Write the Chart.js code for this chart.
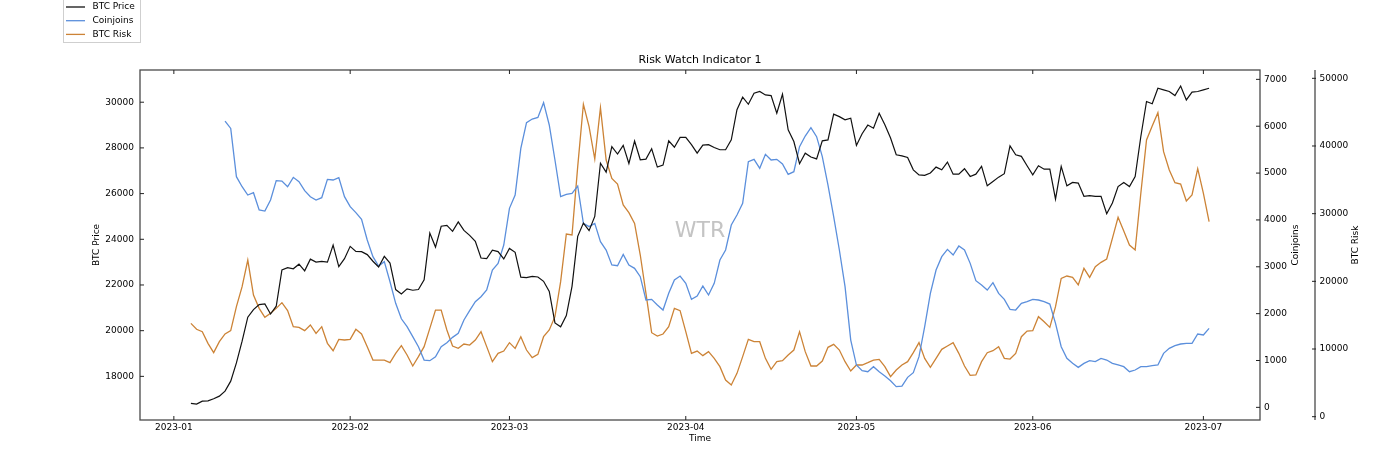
<!DOCTYPE html>
<html>
<head>
<meta charset="utf-8">
<title>Risk Watch Indicator 1</title>
<script src="https://cdn.jsdelivr.net/npm/chart.js@4.4.0/dist/chart.umd.min.js"></script>
<style>
  html, body { margin: 0; padding: 0; background: #fff; }
  canvas { display: block; }
</style>
</head>
<body>
<canvas id="chart" width="1400" height="467"></canvas>
<script>
// --- данные (день от 1 января 2023) ---
const tickDays = [0, 31, 59, 90, 120, 151, 181];
const tickLabels = ['2023-01', '2023-02', '2023-03', '2023-04', '2023-05', '2023-06', '2023-07'];
const priceTicks = [18000, 20000, 22000, 24000, 26000, 28000, 30000];
const coinjoinTicks = [0, 1000, 2000, 3000, 4000, 5000, 6000, 7000];
const riskTicks = [0, 10000, 20000, 30000, 40000, 50000];

const priceStart = 3;     // 4 января
const coinjoinStart = 9;  // 10 января
const riskStart = 3;

const btcPrice = [
  16814, 16785, 16917, 16930, 17018, 17135, 17353, 17790, 18590, 19540,
  20590, 20920, 21140, 21170, 20730, 21070, 22660, 22760, 22710, 22910,
  22620, 23130, 23000, 23030, 23000, 23750, 22800, 23150, 23690, 23470,
  23460, 23330, 23040, 22790, 23250, 22960, 21800, 21610, 21830, 21770,
  21800, 22230, 24270, 23660, 24570, 24610, 24350, 24760, 24390, 24170,
  23910, 23180, 23150, 23520, 23460, 23140, 23600, 23430, 22340, 22320,
  22380, 22350, 22160, 21720, 20340, 20170, 20660, 21940, 24130, 24710,
  24380, 25000, 27330, 26940, 28060, 27730, 28110, 27320, 28300, 27480,
  27510, 27960, 27160, 27250, 28310, 28030, 28460, 28460, 28140, 27770,
  28120, 28140, 28020, 27920, 27920, 28350, 29670, 30220, 29910, 30390,
  30470, 30320, 30290, 29520, 30350, 28790, 28280, 27310, 27770, 27600,
  27520, 28310, 28350, 29480, 29370, 29230, 29300, 28110, 28620, 29000,
  28860, 29520, 29010, 28430, 27700, 27650, 27580, 27040, 26820, 26800,
  26900, 27160, 27040, 27380, 26850, 26850, 27090, 26750, 26850, 27190,
  26340, 26530, 26720, 26870, 28090, 27700, 27630, 27220, 26820, 27220,
  27070, 27070, 25760, 27190, 26340, 26490, 26460, 25880, 25910, 25880,
  25880, 25120, 25590, 26310, 26490, 26310, 26750, 28500, 30030, 29930,
  30610, 30540, 30470, 30290, 30710, 30100, 30440, 30470, 30540, 30610
];

const coinjoins = [
  6111, 5954, 4923, 4709, 4532, 4581, 4212, 4190, 4425, 4838,
  4830, 4709, 4909, 4816, 4624, 4496, 4425, 4475, 4866, 4852,
  4902, 4496, 4283, 4155, 4012, 3571, 3216, 3016, 3110, 2680,
  2220, 1890, 1722, 1508, 1295, 1010, 996, 1081, 1295, 1380,
  1494, 1579, 1864, 2063, 2255, 2362, 2504, 2931, 3073, 3465,
  4247, 4532, 5528, 6075, 6154, 6189, 6502, 6026, 5279, 4496,
  4546, 4567, 4724, 3927, 3856, 3927, 3536, 3358, 3038, 3023,
  3265, 3038, 2967, 2789, 2291, 2305, 2184, 2077, 2433, 2718,
  2803, 2646, 2305, 2376, 2589, 2397, 2646, 3144, 3358, 3891,
  4105, 4354, 5243, 5293, 5101, 5400, 5279, 5293, 5193, 4973,
  5030, 5563, 5791, 5969, 5777, 5350, 4745, 4069, 3358, 2575,
  1437, 903, 783, 761, 868, 761, 669, 569, 441, 455,
  640, 740, 1081, 1722, 2433, 2931, 3216, 3372, 3251, 3443,
  3358, 3073, 2703, 2611, 2504, 2661, 2433, 2305, 2092, 2077,
  2220, 2255, 2305, 2291, 2255, 2205, 1793, 1295, 1046, 939,
  854, 939, 996, 975, 1046, 1010, 939, 904, 868, 761,
  797, 868, 868, 889, 904, 1152, 1259, 1316, 1352, 1366,
  1366, 1565, 1544, 1686
];

const btcRisk = [
  13790, 12910, 12560, 10840, 9460, 11080, 12220, 12710, 16260, 19210,
  23150, 17980, 16010, 14680, 15270, 16010, 16850, 15670, 13300, 13200,
  12710, 13550, 12320, 13300, 10840, 9750, 11430, 11330, 11430, 12910,
  12220, 10350, 8370, 8370, 8370, 7980, 9360, 10500, 9110, 7490,
  8870, 10350, 13050, 15760, 15760, 12810, 10440, 10100, 10740, 10590,
  11330, 12560, 10350, 8130, 9360, 9700, 10940, 10100, 11820, 9850,
  8720, 9210, 11820, 12810, 14780, 19950, 26990, 26850, 36950, 46160,
  42860, 38080, 45660, 37930, 35220, 34380, 31280, 30150, 28570, 23890,
  18230, 12410, 11920, 12220, 13300, 16010, 15670, 12560, 9360, 9700,
  9020, 9610, 8620, 7390, 5420, 4680, 6400, 8870, 11430, 11080,
  11080, 8620, 7000, 8130, 8280, 9110, 9850, 12560, 9610, 7490,
  7490, 8230, 10250, 10690, 9850, 8130, 6750, 7640, 7640, 7980,
  8370, 8470, 7390, 5910, 6900, 7640, 8130, 9460, 10940, 8620,
  7290, 8620, 9950, 10440, 10940, 9360, 7490, 6110, 6160, 8130,
  9460, 9750, 10350, 8620, 8520, 9360, 11820, 12660, 12710, 14780,
  14040, 13200, 16260, 20440, 20790, 20590, 19460, 21920, 20590, 22170,
  22810, 23300, 26350, 29460, 27440, 25370, 24630, 33010, 40890, 42960,
  44930, 39160, 36450, 34580, 34380, 31870, 32760, 36650, 33010, 28820
];

// ==============================================
// стиль
// ==============================================
const FONT = 'DejaVu Sans';
const SPINE = '#4a4a4a';
const colors = { price: '#111111', coinjoins: '#5b8fdc', risk: '#cc8336' };

function toPoints(start, values) {
  return values.map((v, i) => ({ x: start + i, y: v }));
}

function fixedTicks(list) {
  return scale => { scale.ticks = list.map(v => ({ value: v })); };
}

const plainNumber = v => String(v);

// рамка, внутренние риски, подписи осей, легенда и водяной знак
const decorPlugin = {
  id: 'decor',
  beforeDatasetsDraw(chart) {
    const { ctx, chartArea: a } = chart;
    ctx.save();
    ctx.font = '22px "' + FONT + '"';
    ctx.fillStyle = '#c4c4c4';
    ctx.textAlign = 'center';
    ctx.textBaseline = 'middle';
    ctx.fillText('WTR', (a.left + a.right) / 2, 231);
    ctx.restore();
  },
  afterDraw(chart) {
    const { ctx, chartArea: a, scales } = chart;
    ctx.save();
    ctx.strokeStyle = SPINE;
    ctx.lineWidth = 1.3;
    ctx.strokeRect(a.left, a.top, a.right - a.left, a.bottom - a.top);

    const risk = scales.risk;
    ctx.beginPath();
    ctx.moveTo(risk.left, a.top);
    ctx.lineTo(risk.left, a.bottom);
    ctx.stroke();

    ctx.lineWidth = 1;
    ctx.strokeStyle = '#222';
    ctx.beginPath();
    scales.x.ticks.forEach(t => {
      const px = scales.x.getPixelForValue(t.value);
      ctx.moveTo(px, a.bottom); ctx.lineTo(px, a.bottom - 4);
      ctx.moveTo(px, a.top); ctx.lineTo(px, a.top + 4);
    });
    scales.y.ticks.forEach(t => {
      const py = scales.y.getPixelForValue(t.value);
      ctx.moveTo(a.left, py); ctx.lineTo(a.left + 4, py);
    });
    scales.cj.ticks.forEach(t => {
      const py = scales.cj.getPixelForValue(t.value);
      ctx.moveTo(a.right, py); ctx.lineTo(a.right - 4, py);
    });
    risk.ticks.forEach(t => {
      const py = risk.getPixelForValue(t.value);
      ctx.moveTo(risk.left + 1, py); ctx.lineTo(risk.left - 3, py);
    });
    ctx.stroke();

    // подписи осей
    ctx.fillStyle = '#000';
    ctx.font = '9px "' + FONT + '"';
    ctx.textAlign = 'center';
    ctx.textBaseline = 'middle';
    const midY = (a.top + a.bottom) / 2;
    ctx.fillText('Time', (a.left + a.right) / 2, 439);
    [['BTC Price', 97], ['Coinjoins', 1296], ['BTC Risk', 1356]].forEach(([txt, x]) => {
      ctx.save();
      ctx.translate(x, midY);
      ctx.rotate(-Math.PI / 2);
      ctx.fillText(txt, 0, 0);
      ctx.restore();
    });

    // легенда
    const ds = chart.data.datasets;
    ctx.fillStyle = '#fff';
    ctx.strokeStyle = '#cfcfcf';
    ctx.lineWidth = 1;
    ctx.fillRect(63.5, -1, 77, 43.5);
    ctx.strokeRect(63.5, -1, 77, 43.5);
    ctx.textAlign = 'left';
    ds.forEach((d, i) => {
      const y = 7 + i * 13.7;
      ctx.strokeStyle = d.borderColor;
      ctx.lineWidth = 1.3;
      ctx.beginPath();
      ctx.moveTo(66, y); ctx.lineTo(85, y);
      ctx.stroke();
      ctx.fillStyle = '#000';
      ctx.fillText(d.label, 92.5, y);
    });
    ctx.restore();
  }
};

new Chart(document.getElementById('chart'), {
  type: 'line',
  data: {
    datasets: [
      { label: 'BTC Price', data: toPoints(priceStart, btcPrice), yAxisID: 'y',
        borderColor: colors.price, borderWidth: 1.2 },
      { label: 'Coinjoins', data: toPoints(coinjoinStart, coinjoins), yAxisID: 'cj',
        borderColor: colors.coinjoins, borderWidth: 1.3 },
      { label: 'BTC Risk', data: toPoints(riskStart, btcRisk), yAxisID: 'risk',
        borderColor: colors.risk, borderWidth: 1.3 }
    ]
  },
  options: {
    responsive: false,
    animation: false,
    devicePixelRatio: 1,
    elements: { point: { radius: 0 }, line: { tension: 0, fill: false } },
    layout: { padding: 0 },
    plugins: {
      legend: { display: false },
      tooltip: { enabled: false },
      title: {
        display: true,
        text: 'Risk Watch Indicator 1',
        color: '#000',
        font: { family: FONT, size: 11, weight: 'normal' },
        padding: { top: 53.4, bottom: 3.4 }
      }
    },
    scales: {
      x: {
        type: 'linear',
        position: 'bottom',
        min: -5.95,
        max: 190.95,
        grid: { display: false, drawTicks: false },
        border: { display: false },
        afterBuildTicks: fixedTicks(tickDays),
        afterFit: s => { s.height = 47; },
        ticks: {
          color: '#000', padding: 2, maxRotation: 0, autoSkip: false,
          font: { family: FONT, size: 9 },
          callback: v => tickLabels[tickDays.indexOf(v)]
        }
      },
      y: {
        position: 'left',
        min: 16090,
        max: 31410,
        grid: { display: false, drawTicks: false },
        border: { display: false },
        afterBuildTicks: fixedTicks(priceTicks),
        afterFit: s => { s.width = 140; },
        ticks: { color: '#000', padding: 6, font: { family: FONT, size: 9 }, callback: plainNumber }
      },
      cj: {
        position: 'right',
        min: -270,
        max: 7200,
        grid: { display: false, drawTicks: false },
        border: { display: false },
        afterBuildTicks: fixedTicks(coinjoinTicks),
        afterFit: s => { s.width = 55; },
        ticks: { color: '#000', padding: 4, font: { family: FONT, size: 9 }, callback: plainNumber }
      },
      risk: {
        position: 'right',
        min: -490,
        max: 51230,
        grid: { display: false, drawTicks: false },
        border: { display: false },
        afterBuildTicks: fixedTicks(riskTicks),
        afterFit: s => { s.width = 85; },
        ticks: { color: '#000', padding: 4.5, font: { family: FONT, size: 9 }, callback: plainNumber }
      }
    }
  },
  plugins: [decorPlugin]
});
</script>
</body>
</html>
